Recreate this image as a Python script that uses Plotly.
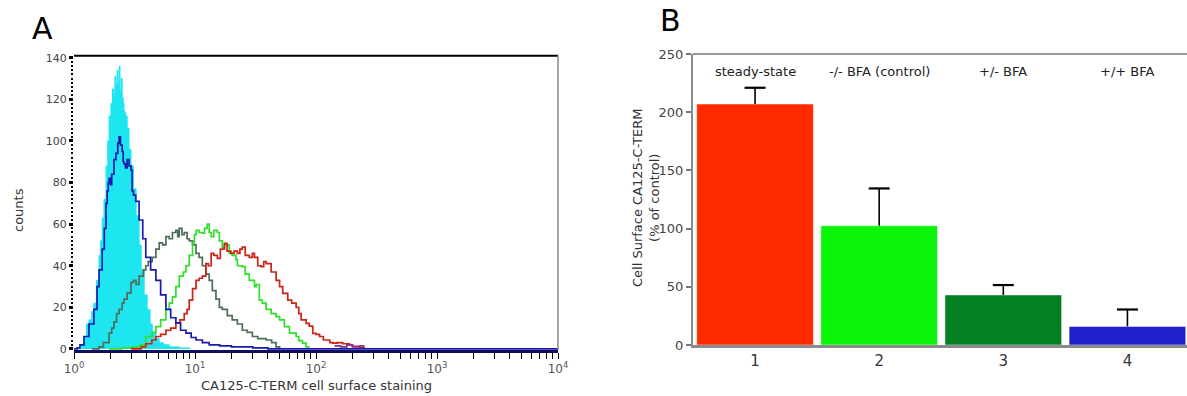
import plotly.graph_objects as go

# ---------------- Panel A: flow cytometry histograms ----------------
cyan_x = [1.06, 1.15, 1.21, 1.27, 1.33, 1.40, 1.46, 1.53, 1.61, 1.66, 1.71, 1.77, 1.84, 1.90, 1.95,
          2.02, 2.08, 2.14, 2.18, 2.22, 2.27, 2.31, 2.36, 2.40, 2.45, 2.50, 2.55, 2.59, 2.66, 2.75,
          2.85, 2.96, 3.10, 3.26, 3.45, 3.59, 3.80, 4.02, 4.25, 4.43, 4.75, 5.06, 5.5, 6.12, 7.4, 9.0]
cyan_y = [0, 2, 6, 12, 14, 18, 22, 33, 45, 52, 63, 72, 88, 100, 112,
          118, 125, 122, 131, 127, 134, 128, 136, 124, 130, 121, 118, 114, 112, 106,
          96, 88, 77, 64, 50, 38, 26, 19, 12, 8, 5, 3, 2, 1, 0.5, 0]

blue_x = [1.0, 1.06, 1.12, 1.21, 1.33, 1.46, 1.55, 1.61, 1.71, 1.78, 1.84, 1.88, 1.92, 1.95, 2.0,
          2.05, 2.14, 2.22, 2.30, 2.36, 2.42, 2.50, 2.55, 2.59, 2.66, 2.75, 2.85, 2.96, 3.02, 3.10,
          3.24, 3.45, 3.70, 3.92, 4.30, 4.75, 5.2, 5.75, 6.3, 6.95, 7.6, 8.42, 9.3, 10.2, 11.5,
          13.1, 16, 20, 30, 40, 10000]
blue_y = [0, 0.5, 2, 6, 12, 19, 30, 38, 48, 58, 70, 76, 80, 82, 79,
          84, 91, 94, 99, 102, 98, 95, 90, 89, 87, 91, 88, 86, 76, 74,
          71, 62, 53, 44, 38, 33, 26, 19, 15, 12.5, 9, 7.6, 5.5, 4.3, 3,
          2, 1.5, 1, 0.5, 0, 0]

grey_x = [1.40, 1.61, 1.75, 1.95, 2.05, 2.14, 2.25, 2.36, 2.50, 2.59, 2.75, 2.96, 3.10, 3.26, 3.45,
          3.57, 3.75, 3.92, 4.10, 4.43, 4.75, 5.06, 5.40, 5.75, 6.12, 6.51, 6.95, 7.2, 7.41, 7.8,
          8.15, 8.6, 8.96, 9.55, 10.2, 10.8, 11.5, 12.3, 13.1, 13.9, 14.9, 15.9, 16.8, 17.5, 18.5,
          20.3, 22.4, 24.6, 27, 29.8, 33, 38.7, 43, 46.8, 50]
grey_y = [0, 1, 3, 7.6, 10, 13, 17, 19, 22, 24, 27, 32, 33, 31, 35,
          35, 38, 40, 42, 44, 48, 51, 50, 54, 53, 56, 57, 54, 58, 55,
          56, 53, 52, 50, 46, 44, 40, 36, 33, 28, 24, 20, 19, 19, 16,
          14, 12, 9, 8, 6, 5, 4.3, 3, 1, 0]

green_x = [1.95, 2.5, 3.02, 3.5, 3.92, 4.43, 4.75, 5.2, 5.75, 6.12, 6.51, 6.95, 7.41, 8.0, 8.42,
           8.96, 9.55, 9.9, 10.2, 10.8, 11.5, 12.0, 12.6, 13.1, 13.6, 14.3, 15.3, 15.9, 16.8, 17.5,
           19.2, 20.3, 21.8, 22.4, 24.6, 26, 28.1, 31.0, 32, 34.0, 36, 38.7, 42.6, 46.8, 50,
           54.8, 60.3, 68.5, 72, 77.3, 82.9, 87]
green_y = [0, 0.5, 1, 2, 6, 8, 10.7, 14, 19, 22, 25, 30, 35, 37, 40,
           45, 51, 55, 57, 56, 55.7, 58, 60, 56, 54, 57, 56, 52, 49, 50,
           46, 45, 43, 40, 39.6, 36, 33, 30, 31, 23.5, 22, 19, 17, 15.5, 14,
           10.7, 7.6, 6, 4, 2.8, 1, 0]

red_x = [2.96, 3.6, 3.92, 4.4, 4.75, 5.2, 5.75, 6.3, 6.95, 7.5, 8.15, 8.6, 8.96, 9.55, 10.2,
         10.8, 11.5, 12.3, 12.9, 13.6, 14.3, 15.3, 16.2, 16.8, 17.5, 18.4, 19.8, 21.0, 22.4, 23.5,
         24.6, 26, 28.1, 29.8, 31.0, 33, 35.2, 37, 38.7, 42.6, 46.8, 50, 53.1, 58.4, 63,
         68.5, 72, 75.4, 82.9, 88, 94.0, 100, 107, 115, 121, 130, 138, 150, 166, 189,
         200, 229, 250]
red_y = [0, 1, 2.5, 4.3, 6, 7, 9, 10, 12.5, 14, 17, 19, 23.5, 29, 33,
         34, 35, 41, 40, 46, 45, 43.6, 48, 48, 50.8, 47, 46, 47, 46, 48,
         49, 45, 44, 46, 44, 40, 39.6, 42, 41, 37, 33, 30, 26.7, 23.5, 22,
         20, 17, 14, 12.3, 11, 7.5, 7, 6, 4.3, 4.3, 3, 2.8, 3, 2.5, 2,
         1, 0.5, 0]

purple_x = [142, 160, 180, 200, 230, 247]
purple_y = [1.5, 1.0, 2.0, 1.2, 1.5, 0.5]

# ---------------- Panel B: bar chart ----------------
bar_cats = [1, 2, 3, 4]
bar_vals = [207, 102.5, 43, 16]
bar_errs = [14, 32, 8.5, 14.5]
bar_colors = ["#ff2a00", "#0af50a", "#047f24", "#1f20cc"]
bar_labels = ["steady-state", "-/- BFA (control)", "+/- BFA", "+/+ BFA"]

xA_major = [1, 10, 100, 1000, 10000]
xA_labels = ["10<sup>0</sup>", "10<sup>1</sup>", "10<sup>2</sup>", "10<sup>3</sup>", "10<sup>4</sup>"]

FONT = "DejaVu Sans"

# the page body margin is removed (post_script below), so the figure fills the page
W, H = 1187, 396


def px(x):
    return x / W


def py(y):
    return 1 - y / H


fig = go.Figure()

fig.add_trace(go.Scatter(x=cyan_x, y=cyan_y, mode="lines", fill="tozeroy",
                         line=dict(color="#1ee6f0", width=1, shape="hv"),
                         fillcolor="#1ee6f0", xaxis="x", yaxis="y"))
fig.add_trace(go.Scatter(x=grey_x, y=grey_y, mode="lines",
                         line=dict(color="#4f6e57", width=1.7, shape="hv"), xaxis="x", yaxis="y"))
fig.add_trace(go.Scatter(x=green_x, y=green_y, mode="lines",
                         line=dict(color="#2fe02a", width=1.7, shape="hv"), xaxis="x", yaxis="y"))
fig.add_trace(go.Scatter(x=red_x, y=red_y, mode="lines",
                         line=dict(color="#cc2515", width=1.7, shape="hv"), xaxis="x", yaxis="y"))
fig.add_trace(go.Scatter(x=purple_x, y=purple_y, mode="lines",
                         line=dict(color="#8a2f8a", width=1.7, shape="hv"), xaxis="x", yaxis="y"))
fig.add_trace(go.Scatter(x=blue_x, y=blue_y, mode="lines",
                         line=dict(color="#1a1ab0", width=1.7, shape="hv"), xaxis="x", yaxis="y"))

fig.add_trace(go.Bar(x=bar_cats, y=bar_vals, width=0.94,
                     marker=dict(color=bar_colors, line=dict(color="rgba(255,255,255,0.5)", width=1)),
                     xaxis="x2", yaxis="y2"))
# upward-only error bars: stem from bar top, cap at the top end
err_tops = [v + e for v, e in zip(bar_vals, bar_errs)]
fig.add_trace(go.Scatter(x=bar_cats, y=err_tops, mode="markers",
                         marker=dict(symbol="line-ew", size=15, line=dict(color="black", width=2.2)),
                         error_y=dict(type="data", array=[0, 0, 0, 0], arrayminus=bar_errs,
                                      symmetric=False, color="black", thickness=1.6, width=0),
                         xaxis="x2", yaxis="y2"))

# minor tick positions for the log axis (2..9 in each decade)
xA_ticks = []
xA_text = []
for dec in [1, 10, 100, 1000]:
    for m in range(1, 10):
        xA_ticks.append(dec * m)
        xA_text.append(xA_labels[xA_major.index(dec)] if m == 1 else "")
xA_ticks.append(10000)
xA_text.append(xA_labels[-1])

fig.update_layout(
    width=W, height=H, margin=dict(l=0, r=0, t=0, b=0, autoexpand=False),
    paper_bgcolor="white", plot_bgcolor="white", showlegend=False,
    font=dict(family=FONT, color="#444444"),
    xaxis=dict(type="log", range=[0, 4], domain=[px(74), px(558)], automargin=False,
               tickmode="array", tickvals=xA_ticks, ticktext=xA_text,
               ticks="outside", ticklen=6, tickwidth=1.2, tickcolor="black",
               showgrid=False, zeroline=False, showline=True, linecolor="#10105e", linewidth=3,
               tickfont=dict(size=12, color="#555555"), anchor="y"),
    yaxis=dict(range=[-0.5, 141], domain=[py(350), py(55.7)], automargin=False,
               tickmode="array", tickvals=[0, 20, 40, 60, 80, 100, 120, 140],
               ticks="outside", ticklen=4, tickwidth=2.5, tickcolor="black",
               minor=dict(dtick=2, tick0=0, ticks="outside", ticklen=2, tickwidth=1.5, tickcolor="black"),
               showgrid=False, zeroline=False, showline=False,
               tickfont=dict(size=11, color="#444444"), anchor="x"),
    xaxis2=dict(range=[0.5, 4.48], domain=[px(693), 1.0], automargin=False,
                tickmode="array", tickvals=bar_cats, ticktext=[str(c) for c in bar_cats],
                ticks="", showgrid=False, zeroline=False, showline=True,
                linecolor="#8a8a8a", linewidth=3,
                tickfont=dict(size=15, color="#333333"), anchor="y2"),
    yaxis2=dict(range=[0, 250], domain=[py(345), py(54)], automargin=False,
                tickmode="array", tickvals=[0, 50, 100, 150, 200, 250],
                ticks="outside", ticklen=5, tickwidth=2, tickcolor="#777777",
                showgrid=False, zeroline=False, showline=True, linecolor="#8a8a8a", linewidth=2,
                tickfont=dict(size=13, color="#444444"), anchor="x2"),
    bargap=0.06,
)

# frame of panel A: black top, grey right
fig.add_shape(type="line", xref="x domain", yref="y domain", x0=0, x1=1, y0=1, y1=1,
              line=dict(color="black", width=2))
fig.add_shape(type="line", xref="x domain", yref="y domain", x0=1, x1=1, y0=0, y1=1,
              line=dict(color="#888888", width=1.5))
# top line of panel B
fig.add_shape(type="line", xref="x2 domain", yref="y2 domain", x0=0, x1=1, y0=1, y1=1,
              line=dict(color="#999999", width=2))

CM = dict(xanchor="center", yanchor="middle", showarrow=False, xref="paper", yref="paper")
annotations = [
    dict(text="A", x=px(42), y=py(29), font=dict(size=30, color="black", family=FONT), **CM),
    dict(text="B", x=px(670), y=py(21), font=dict(size=30, color="black", family=FONT), **CM),
    dict(text="CA125-C-TERM cell surface staining", x=px(316), y=py(385),
         font=dict(size=13, color="#333333"), **CM),
    dict(text="counts", x=px(18), y=py(210), textangle=-90,
         font=dict(size=13, color="#333333"), **CM),
    dict(text="Cell Surface CA125-C-TERM<br>(% of control)", x=px(646), y=py(198), textangle=-90,
         font=dict(size=13, color="#333333"), **CM),
]
for c, lab in zip(bar_cats, bar_labels):
    annotations.append(dict(text=lab, x=c, y=235, xref="x2", yref="y2", showarrow=False,
                            xanchor="center", yanchor="middle",
                            font=dict(size=13, color="#222222")))
fig.update_layout(annotations=annotations)

fig.write_html("out.html", config={"displayModeBar": False},
               post_script="document.body.style.margin='0';document.body.style.overflow='hidden';")
